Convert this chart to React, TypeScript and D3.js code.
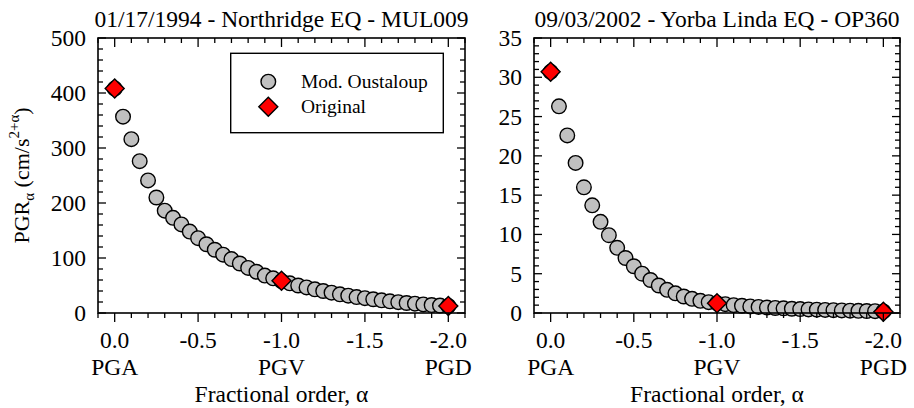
import React from "react";
import * as d3 from "d3";

const alphas = [
  0, -0.05, -0.1, -0.15, -0.2, -0.25, -0.3, -0.35, -0.4, -0.45, -0.5, -0.55, -0.6, -0.65, -0.7, -0.75, -0.8,
  -0.85, -0.9, -0.95, -1.0, -1.05, -1.1, -1.15, -1.2, -1.25, -1.3, -1.35, -1.4, -1.45, -1.5, -1.55, -1.6,
  -1.65, -1.7, -1.75, -1.8, -1.85, -1.9, -1.95, -2.0,
];

const northridgeOustaloup = [
  408, 357, 316, 276, 241, 210, 186, 173, 161, 148, 136, 125, 115, 106, 98, 90, 82, 75, 68, 63, 58, 54, 50,
  46.5, 43, 40, 37, 34, 31.5, 29, 27, 25, 23, 21.3, 19.7, 18.2, 16.9, 15.6, 14.5, 13.5, 12.7,
];
const yorbaOustaloup = [
  30.7, 26.3, 22.6, 19.1, 16.0, 13.7, 11.6, 9.9, 8.3, 7.0, 5.95, 5.0, 4.2, 3.5, 2.95, 2.5, 2.1, 1.8, 1.55,
  1.38, 1.25, 1.12, 1.0, 0.92, 0.84, 0.77, 0.7, 0.64, 0.59, 0.54, 0.5, 0.46, 0.42, 0.39, 0.36, 0.33, 0.3,
  0.28, 0.25, 0.23, 0.2,
];

const originalAlphas = [0, -1, -2];
const northridgeOriginal = [408, 58.5, 12.7];
const yorbaOriginal = [30.7, 1.25, 0.17];

const xTickLabels = ["0.0", "-0.5", "-1.0", "-1.5", "-2.0"];
const xTickValues = [0, -0.5, -1, -1.5, -2];
const xCategoryLabels = ["PGA", "PGV", "PGD"];
const xCategoryValues = [0, -1, -2];

const legendLabels = ["Mod. Oustaloup", "Original"];

const FONT = "'Liberation Serif', 'Times New Roman', serif";
const FS = 23.5;

type PanelProps = {
  left: number;
  right: number;
  title: string;
  yMax: number;
  yMajor: number;
  yMinor: number;
  circles: number[];
  originals: number[];
  legend?: boolean;
  yLabel?: boolean;
};

function Panel({ left, right, title, yMax, yMajor, yMinor, circles, originals, legend, yLabel }: PanelProps) {
  const top = 38;
  const bottom = 313;
  const x = d3.scaleLinear().domain([0.1, -2.1]).range([left, right]);
  const y = d3.scaleLinear().domain([0, yMax]).range([bottom, top]);

  const xMinor = d3.range(0.1, -2.1001, -0.1).map((v) => Math.round(v * 10) / 10);
  const yTicks = d3.range(0, yMax + 0.0001, yMinor);
  const isMajorX = (v: number) => Math.abs(v * 2 - Math.round(v * 2)) < 1e-6;
  const isMajorY = (v: number) => Math.abs(v / yMajor - Math.round(v / yMajor)) < 1e-6;

  const diamond = (cx: number, cy: number, r: number) =>
    `M${cx},${cy - r}L${cx + r},${cy}L${cx},${cy + r}L${cx - r},${cy}Z`;

  const cxMid = (left + right) / 2;
  const tickStroke = 1.3;

  return (
    <g>
      <text x={cxMid} y={27} textAnchor="middle" fontFamily={FONT} fontSize={FS}>
        {title}
      </text>

      {circles.map((v, i) => (
        <circle key={"c" + i} cx={x(alphas[i])} cy={y(v)} r={7.3} fill="#c0c0c0" stroke="#000" strokeWidth={1.4} />
      ))}
      {originals.map((v, i) => (
        <path key={"d" + i} d={diamond(x(originalAlphas[i]), y(v), 9.5)} fill="#ff0000" stroke="#000" strokeWidth={1.4} />
      ))}

      <rect x={left} y={top} width={right - left} height={bottom - top} fill="none" stroke="#000" strokeWidth={1.6} />

      {xMinor.map((v, i) => {
        const px = x(v);
        const len = isMajorX(v) ? 9 : 5;
        return (
          <g key={"xt" + i}>
            <line x1={px} x2={px} y1={bottom} y2={bottom + len} stroke="#000" strokeWidth={tickStroke} />
            <line x1={px} x2={px} y1={top} y2={top + len} stroke="#000" strokeWidth={tickStroke} />
          </g>
        );
      })}
      {yTicks.map((v, i) => {
        const py = y(v);
        const len = isMajorY(v) ? 8 : 5;
        return (
          <g key={"yt" + i}>
            <line x1={left} x2={left + len} y1={py} y2={py} stroke="#000" strokeWidth={tickStroke} />
            <line x1={right} x2={right - len} y1={py} y2={py} stroke="#000" strokeWidth={tickStroke} />
          </g>
        );
      })}

      {yTicks.filter(isMajorY).map((v, i) => (
        <text key={"yl" + i} x={left - 12} y={y(v) + 8} textAnchor="end" fontFamily={FONT} fontSize={FS}>
          {String(v)}
        </text>
      ))}
      {xTickValues.map((v, i) => (
        <text key={"xl" + i} x={x(v)} y={348} textAnchor="middle" fontFamily={FONT} fontSize={FS}>
          {xTickLabels[i]}
        </text>
      ))}
      {xCategoryValues.map((v, i) => (
        <text key={"xc" + i} x={x(v)} y={375} textAnchor="middle" fontFamily={FONT} fontSize={FS}>
          {xCategoryLabels[i]}
        </text>
      ))}
      <text x={cxMid} y={402} textAnchor="middle" fontFamily={FONT} fontSize={FS}>
        Fractional order, α
      </text>

      {yLabel && (
        <text transform={`translate(29,${(top + bottom) / 2}) rotate(-90)`} textAnchor="middle" fontFamily={FONT} fontSize={22}>
          PGR
          <tspan fontSize={15} dy={5}>α</tspan>
          <tspan dy={-5}>{"\u00A0(cm/s"}</tspan>
          <tspan fontSize={15} dy={-10}>2+α</tspan>
          <tspan dy={10}>)</tspan>
        </text>
      )}

      {legend && (
        <g>
          <rect x={230.7} y={53.3} width={212.6} height={79.4} fill="#fff" stroke="#000" strokeWidth={1.4} />
          <circle cx={268.3} cy={81.7} r={7.3} fill="#c0c0c0" stroke="#000" strokeWidth={1.4} />
          <path d={diamond(268.3, 106.7, 9.5)} fill="#ff0000" stroke="#000" strokeWidth={1.4} />
          <text x={301} y={88} fontFamily={FONT} fontSize={19.5}>
            {legendLabels[0]}
          </text>
          <text x={301} y={113} fontFamily={FONT} fontSize={19.5}>
            {legendLabels[1]}
          </text>
        </g>
      )}
    </g>
  );
}

export default function App() {
  return (
    <svg width={914} height={408} style={{ position: "absolute", left: 0, top: 0, background: "#fff" }}>
      <rect x={0} y={0} width={914} height={408} fill="#fff" />
      <Panel
        left={98}
        right={465}
        title="01/17/1994 - Northridge EQ - MUL009"
        yMax={500}
        yMajor={100}
        yMinor={20}
        circles={northridgeOustaloup}
        originals={northridgeOriginal}
        legend
        yLabel
      />
      <Panel
        left={534}
        right={900}
        title="09/03/2002 - Yorba Linda EQ - OP360"
        yMax={35}
        yMajor={5}
        yMinor={1}
        circles={yorbaOustaloup}
        originals={yorbaOriginal}
      />
    </svg>
  );
}
